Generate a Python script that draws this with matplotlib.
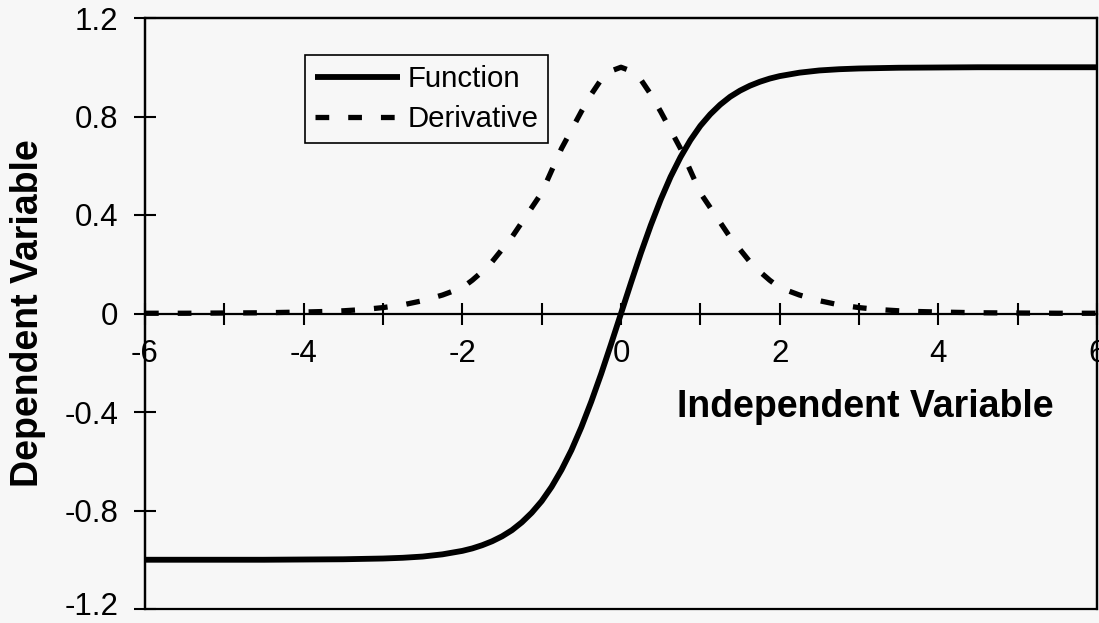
"""Sigmoid-type function and its derivative, Excel-style line chart."""

import matplotlib
matplotlib.use("Agg")
import matplotlib.pyplot as plt
from matplotlib.patches import Rectangle
from matplotlib.transforms import ScaledTranslation

plt.rcParams["font.family"] = ["Liberation Sans", "DejaVu Sans"]

# Data
func_x = [-6.0, -5.0, -4.5, -4.0, -3.5, -3.0, -2.75, -2.5, -2.25, -2.0,
          -1.875, -1.75, -1.625, -1.5, -1.375, -1.25, -1.125, -1.0, -0.875,
          -0.75, -0.625, -0.5, -0.375, -0.25, -0.125, 0.0, 0.125, 0.25, 0.375,
          0.5, 0.625, 0.75, 0.875, 1.0, 1.125, 1.25, 1.375, 1.5, 1.625, 1.75,
          1.875, 2.0, 2.25, 2.5, 2.75, 3.0, 3.5, 4.0, 4.5, 5.0, 6.0]
func_y = [-1.0, -1.0, -1.0, -0.999, -0.998, -0.995, -0.992, -0.987, -0.978,
          -0.964, -0.954, -0.941, -0.925, -0.905, -0.880, -0.848, -0.809,
          -0.762, -0.704, -0.635, -0.555, -0.462, -0.358, -0.245, -0.124, 0.0,
          0.124, 0.245, 0.358, 0.462, 0.555, 0.635, 0.704, 0.762, 0.809, 0.848,
          0.880, 0.905, 0.925, 0.941, 0.954, 0.964, 0.978, 0.987, 0.992, 0.995,
          0.998, 0.999, 1.0, 1.0, 1.0]

deriv_x = [-6.0, -5.5, -5.0, -4.5, -4.0, -3.75, -3.5, -3.25, -3.0, -2.75,
           -2.5, -2.25, -2.0, -1.875, -1.75, -1.625, -1.5, -1.375, -1.25,
           -1.125, -1.0, -0.875, -0.75, -0.625, -0.5, -0.375, -0.25, -0.125,
           0.0, 0.125, 0.25, 0.375, 0.5, 0.625, 0.75, 0.875, 1.0, 1.125, 1.25,
           1.375, 1.5, 1.625, 1.75, 1.875, 2.0, 2.25, 2.5, 2.75, 3.0, 3.25,
           3.5, 3.75, 4.0, 4.5, 5.0, 5.5, 6.0]
deriv_y = [0.001, 0.001, 0.002, 0.003, 0.006, 0.008, 0.011, 0.016, 0.024,
           0.035, 0.052, 0.075, 0.105, 0.135, 0.17, 0.21, 0.26, 0.31, 0.37,
           0.43, 0.49, 0.58, 0.67, 0.745, 0.82, 0.89, 0.95, 0.985, 1.0, 0.985,
           0.95, 0.89, 0.82, 0.745, 0.67, 0.58, 0.49, 0.43, 0.37, 0.31, 0.26,
           0.21, 0.17, 0.135, 0.105, 0.075, 0.052, 0.035, 0.024, 0.016, 0.011,
           0.008, 0.006, 0.003, 0.002, 0.001, 0.001]

x_major = [-6, -4, -2, 0, 2, 4, 6]
x_minor = [-5, -3, -1, 1, 3, 5]
y_ticks = [-1.2, -0.8, -0.4, 0, 0.4, 0.8, 1.2]
y_labels = ["-1.2", "-0.8", "-0.4", "0", "0.4", "0.8", "1.2"]

bg = "#f7f7f7"
W, H = 1099, 623

fig = plt.figure(figsize=(W / 100, H / 100), dpi=100, facecolor=bg)
ax = fig.add_axes([145 / W, 14 / H, 952 / W, 591 / H], facecolor=bg)

ax.plot(func_x, func_y, color="black", lw=4.2, label="Function",
        solid_capstyle="butt", solid_joinstyle="round")
ax.plot(deriv_x, deriv_y, color="black", lw=3.8, ls=(0, (2.6, 3.6)),
        label="Derivative", dash_capstyle="butt")

ax.set_xlim(-6, 6)
ax.set_ylim(-1.2, 1.2)

# x axis runs through y = 0
ax.spines["bottom"].set_position(("data", 0))
for side in ["left", "top", "right", "bottom"]:
    ax.spines[side].set_linewidth(1.6)
ax.add_patch(Rectangle((0, 0), 1, 1, transform=ax.transAxes, fill=False,
                       lw=1.6, edgecolor="black", clip_on=False))

ax.set_xticks(x_major)
ax.set_xticklabels([str(v) for v in x_major])
ax.set_xticks(x_minor, minor=True)
ax.set_yticks(y_ticks)
ax.set_yticklabels(y_labels)
ax.tick_params(axis="x", which="both", direction="inout", length=16, width=1.5,
               labelsize=22.5, pad=10, top=False)
ax.tick_params(axis="y", direction="inout", length=16, width=1.5,
               labelsize=22.5, pad=11, right=False)

# nudge the lowest y label up a little so it stays inside the image
low_tick = ax.yaxis.get_major_ticks()[0]
low_trans = ax.get_yaxis_text1_transform(11 + 8)[0]
low_tick.label1.set_transform(
    low_trans + ScaledTranslation(0, 4 / 72, fig.dpi_scale_trans))

fig.text(865 / W, 1 - 407 / H, "Independent Variable", fontsize=27,
         fontweight="bold", ha="center", va="center")
fig.text(28 / W, 1 - 313 / H, "Dependent Variable", fontsize=27,
         fontweight="bold", ha="center", va="center", rotation=90)

leg = ax.legend(loc="upper left", bbox_to_anchor=(0.168, 0.937), fontsize=21.2,
                frameon=True, fancybox=False, edgecolor="black", facecolor=bg,
                framealpha=1, handlelength=2.9, handletextpad=0.25,
                borderpad=0.33, labelspacing=0.42, borderaxespad=0)
leg.get_frame().set_linewidth(1.2)

fig.savefig("out.png", dpi=100, facecolor=bg)
